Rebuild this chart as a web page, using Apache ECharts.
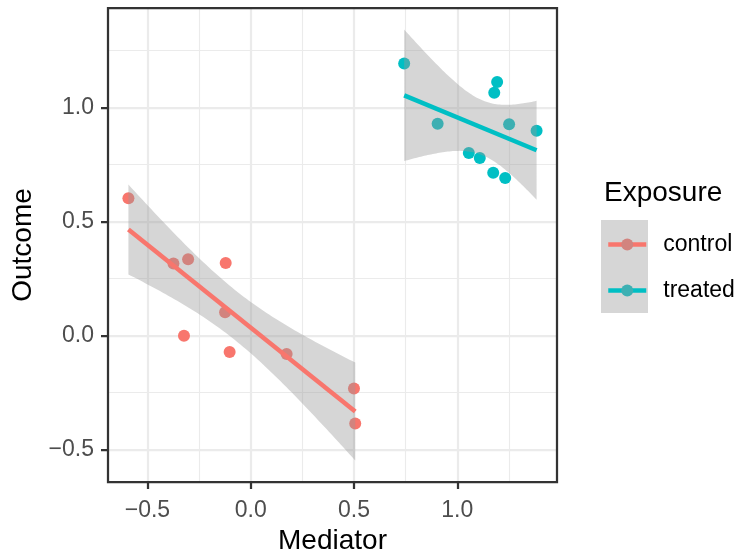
<!DOCTYPE html>
<html><head><meta charset="utf-8">
<script src="https://cdn.jsdelivr.net/npm/echarts@6/dist/echarts.min.js"></script>
<style>html,body{margin:0;padding:0;background:#fff}#c{width:736px;height:550px}</style>
</head><body><div id="c"></div>
<script>
// ---- data ----
const groups = ['control', 'treated'];
const controlX = [-0.592, -0.374, -0.303, -0.121, -0.124, -0.323, -0.102, 0.174, 0.500, 0.506];
const controlY = [0.602, 0.316, 0.334, 0.318, 0.102, -0.001, -0.072, -0.081, -0.232, -0.385];
const treatedX = [0.743, 0.905, 1.193, 1.179, 1.251, 1.384, 1.056, 1.109, 1.174, 1.232];
const treatedY = [1.192, 0.928, 1.111, 1.064, 0.926, 0.898, 0.800, 0.778, 0.714, 0.691];
const xTicks = [-0.5, 0, 0.5, 1.0];
const yTicks = [-0.5, 0, 0.5, 1.0];
const xTitle = 'Mediator';
const yTitle = 'Outcome';
const legendTitle = 'Exposure';
const T975_DF8 = 2.306004; // t quantile for 95% CI, df = n - 2 = 8

// ---- styles ----
const COLORS = { control: '#F8766D', treated: '#00BFC4' };
const MUTED = { control: '#D2847F', treated: '#3DB0B3' };
const BAND_FILL = 'rgba(153,153,153,0.4)';
const FONT = '"Liberation Sans", Arial, Helvetica, sans-serif';

// ---- linear model (geom_smooth method = "lm") ----
function lmFit(xs, ys) {
  const n = xs.length;
  const mx = xs.reduce((a, b) => a + b, 0) / n;
  const my = ys.reduce((a, b) => a + b, 0) / n;
  let sxx = 0, sxy = 0;
  for (let i = 0; i < n; i++) { sxx += (xs[i] - mx) ** 2; sxy += (xs[i] - mx) * (ys[i] - my); }
  const b = sxy / sxx, a = my - b * mx;
  let ssr = 0;
  for (let i = 0; i < n; i++) ssr += (ys[i] - (a + b * xs[i])) ** 2;
  const s = Math.sqrt(ssr / (n - 2));
  return { a, b, s, mx, sxx, n, xmin: Math.min(...xs), xmax: Math.max(...xs) };
}
function bandPoints(f, k) {
  const pts = [];
  for (let i = 0; i < k; i++) {
    const x = f.xmin + (f.xmax - f.xmin) * i / (k - 1);
    const y = f.a + f.b * x;
    const se = f.s * Math.sqrt(1 / f.n + (x - f.mx) ** 2 / f.sxx);
    pts.push([x, y - T975_DF8 * se, y + T975_DF8 * se, y]);
  }
  return pts;
}

const raw = { control: [controlX, controlY], treated: [treatedX, treatedY] };
const fits = {}, bands = {};
groups.forEach(g => { fits[g] = lmFit(raw[g][0], raw[g][1]); bands[g] = bandPoints(fits[g], 80); });

// axis limits with ggplot's 5% expansion
const allX = controlX.concat(treatedX);
let allY = controlY.concat(treatedY);
groups.forEach(g => bands[g].forEach(p => { allY.push(p[1], p[2]); }));
function expand(arr) { const lo = Math.min(...arr), hi = Math.max(...arr), d = (hi - lo) * 0.05; return [lo - d, hi + d]; }
const xLim = expand(allX), yLim = expand(allY);

const fmt = v => (v < 0 ? '\u2212' : '') + Math.abs(v).toFixed(1);

const series = [];
groups.forEach(g => {
  series.push({
    name: g + ' points', type: 'scatter', symbol: 'circle', symbolSize: 12, z: 2,
    itemStyle: { color: COLORS[g], opacity: 1 }, silent: true,
    data: raw[g][0].map((x, i) => [x, raw[g][1][i]])
  });
});
groups.forEach(g => {
  const pts = bands[g];
  series.push({
    name: g + ' band', type: 'custom', silent: true, z: 3,
    data: [[pts[0][0], pts[0][3]]],
    renderItem: (params, api) => {
      const up = pts.map(p => api.coord([p[0], p[2]]));
      const lo = pts.slice().reverse().map(p => api.coord([p[0], p[1]]));
      return { type: 'polygon', shape: { points: up.concat(lo) }, style: { fill: BAND_FILL } };
    }
  });
});
groups.forEach(g => {
  const f = fits[g];
  series.push({
    name: g, type: 'line', symbol: 'none', silent: true, z: 4,
    lineStyle: { color: COLORS[g], width: 4.5 }, itemStyle: { color: COLORS[g] },
    data: [[f.xmin, f.a + f.b * f.xmin], [f.xmax, f.a + f.b * f.xmax]]
  });
});

const axisCommon = {
  type: 'value',
  nameLocation: 'middle',
  nameTextStyle: { fontSize: 28, color: '#000000', fontFamily: FONT },
  axisLine: { show: false, onZero: false },
  axisTick: { show: true, length: 7, lineStyle: { color: '#333333', width: 2.25 } },
  axisLabel: { fontSize: 23, color: '#4D4D4D', margin: 14, formatter: fmt, fontFamily: FONT },
  splitLine: { show: true, lineStyle: { color: '#EBEBEB', width: 2.25 } },
  minorTick: { show: false, splitNumber: 2 },
  minorSplitLine: { show: true, lineStyle: { color: '#EBEBEB', width: 1.1 } }
};

const option = {
  animation: false,
  backgroundColor: '#ffffff',
  textStyle: { fontFamily: FONT },
  grid: { left: 108, right: 179, top: 8, bottom: 68, show: true, z: 10,
          backgroundColor: 'transparent', borderColor: '#333333', borderWidth: 2.25,
          containLabel: false, outerBoundsMode: 'none' },
  xAxis: Object.assign({}, axisCommon, {
    min: xLim[0], max: xLim[1], name: xTitle, nameGap: 44,
    axisTick: Object.assign({}, axisCommon.axisTick, { customValues: xTicks }),
    axisLabel: Object.assign({}, axisCommon.axisLabel, { customValues: xTicks, margin: 17 })
  }),
  yAxis: Object.assign({}, axisCommon, {
    min: yLim[0], max: yLim[1], name: yTitle, nameGap: 71,
    axisTick: Object.assign({}, axisCommon.axisTick, { customValues: yTicks }),
    axisLabel: Object.assign({}, axisCommon.axisLabel, { customValues: yTicks })
  }),
  title: { text: legendTitle, left: 604, top: 179, padding: 0,
           textStyle: { fontSize: 28, fontWeight: 'normal', color: '#000000', fontFamily: FONT } },
  graphic: [{ type: 'rect', left: 601, top: 220, z: 0, shape: { width: 47, height: 93 }, style: { fill: '#D6D6D6' } }],
  legend: {
    orient: 'vertical', left: 606, top: 233, padding: 0,
    itemWidth: 38, itemHeight: 15, itemGap: 23, selectedMode: false,
    textStyle: { fontSize: 23, lineHeight: 23, color: '#000000', fontFamily: FONT, padding: [0, 0, 0, 12] },
    data: groups.map(g => ({ name: g, itemStyle: { color: MUTED[g] }, lineStyle: { color: COLORS[g], width: 4.5 } }))
  },
  series: series
};

const chart = echarts.init(document.getElementById('c'), null, { renderer: 'canvas' });
chart.setOption(option);
</script>
</body></html>
